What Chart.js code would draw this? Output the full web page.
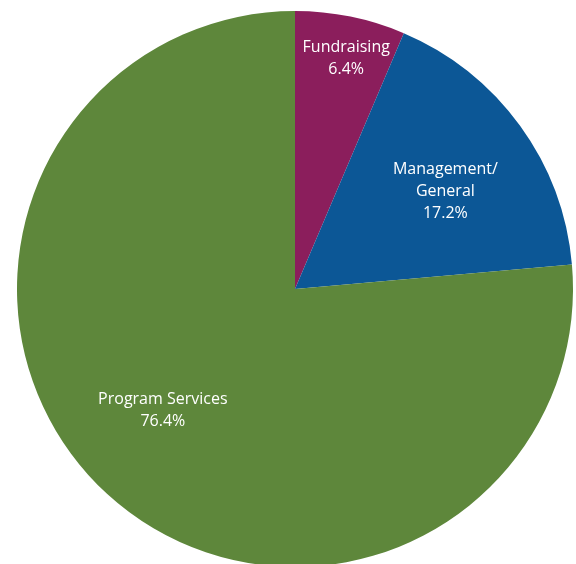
<!DOCTYPE html>
<html>
<head>
<meta charset="utf-8">
<script src="https://cdn.jsdelivr.net/npm/chart.js@4.4.0/dist/chart.umd.min.js"></script>
<style>
  html, body { margin: 0; padding: 0; background: #fff; overflow: hidden; }
  #wrap { width: 576px; height: 576px; }
</style>
</head>
<body>
<div id="wrap"><canvas id="myChart"></canvas></div>
<script>
// data
const categories = ['Fundraising', 'Management/\nGeneral', 'Program Services'];
const shares = [6.4, 17.2, 76.4];
const sliceColors = ['#8b1e5c', '#0c5796', '#5e873b'];

// where each label sits inside its slice: fraction of radius, angle nudge (deg)
const labelPlace = [
  { r: 0.85, nudge: 1 },
  { r: 0.645, nudge: 3 },
  { r: 0.645, nudge: 5 }
];

const sliceLabels = {
  id: 'sliceLabels',
  afterDatasetsDraw(chart) {
    const ctx = chart.ctx;
    const meta = chart.getDatasetMeta(0);
    ctx.save();
    ctx.fillStyle = '#ffffff';
    ctx.font = '16px "Open Sans", sans-serif';
    ctx.textAlign = 'center';
    ctx.textBaseline = 'middle';
    const lineH = 22;
    meta.data.forEach((arc, i) => {
      const p = arc.getProps(['x', 'y', 'startAngle', 'endAngle', 'outerRadius'], true);
      const place = labelPlace[i];
      const mid = (p.startAngle + p.endAngle) / 2 + place.nudge * Math.PI / 180;
      const cx = p.x + Math.cos(mid) * p.outerRadius * place.r;
      const cy = p.y + Math.sin(mid) * p.outerRadius * place.r;
      const lines = categories[i].split('\n').concat([shares[i].toFixed(1) + '%']);
      const top = cy - (lines.length - 1) * lineH / 2;
      lines.forEach((t, k) => ctx.fillText(t, cx, top + k * lineH));
    });
    ctx.restore();
  }
};

(() => {
  'use strict'
  const ctx = document.getElementById('myChart');
  new Chart(ctx, {
    type: 'pie',
    data: {
      labels: categories,
      datasets: [{
        data: shares,
        backgroundColor: sliceColors,
        borderWidth: 0
      }]
    },
    options: {
      responsive: true,
      maintainAspectRatio: false,
      animation: false,
      rotation: 0,
      layout: { padding: { left: 17, right: 3, top: 11, bottom: 9 } },
      plugins: {
        legend: { display: false },
        tooltip: { enabled: false }
      }
    },
    plugins: [sliceLabels]
  });
})()
</script>
</body>
</html>
